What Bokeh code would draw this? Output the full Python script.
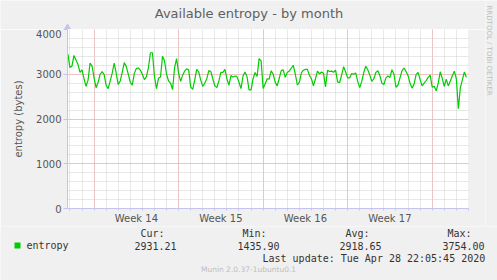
import math
from datetime import datetime, timedelta
from bokeh.plotting import figure
from bokeh.layouts import column, row
from bokeh.models import Range1d, FixedTicker
from bokeh.core.properties import value
from bokeh.embed import file_html
from bokeh.resources import INLINE

# ---------------- data ----------------
title_text = "Available entropy - by month"
y_label = "entropy (bytes)"
series_name = "entropy"
week_labels = ["Week 14", "Week 15", "Week 16", "Week 17"]
week_starts = ["2020-03-29", "2020-04-05", "2020-04-12", "2020-04-19", "2020-04-26"]
range_start = "2020-03-26 19:10"
range_end = "2020-04-29 00:10"
data_start = "2020-03-26 20:00"
step_hours = 4
y_ticks = [0, 1000, 2000, 3000, 4000]
entropy = [
    3450, 3150, 3180, 3420, 3320, 3220, 3040, 3099, 2900, 2730,
    2870, 3250, 3180, 2920, 2700, 2820, 3000, 3060, 2990, 2750,
    2680, 2850, 3023, 3250, 3020, 2770, 2850, 3050, 3260, 3170,
    3000, 2820, 2756, 3020, 3130, 3140, 3090, 3000, 2880, 2940,
    3150, 3480, 3480, 2950, 2680, 2910, 2940, 3400, 3300, 3000,
    2850, 2800, 2660, 3150, 3350, 3023, 2840, 2980, 3070, 3120,
    3099, 2718, 2660, 2870, 3110, 3050, 2870, 2730, 2800, 2900,
    3080, 3061, 2900, 2740, 2700, 2850, 3040, 3040, 3110, 2900,
    2750, 2970, 2940, 2960, 2947, 2820, 2680, 2960, 3050, 2947,
    2650, 2650, 2900, 3040, 2950, 3350, 3300, 2680, 2780, 2900,
    2890, 3080, 3000, 2820, 2740, 2910, 3080, 3099, 2930, 3040,
    3070, 3140, 3200, 3000, 2760, 2820, 3030, 3090, 3110, 3110,
    2975, 2900, 2740, 2900, 3070, 3010, 3050, 3020, 2718, 3090,
    3061, 3070, 3045, 3090, 2830, 2810, 2980, 3170, 3050, 2920,
    2920, 3015, 3000, 3030, 2840, 2700, 2840, 3040, 3180, 3100,
    2980, 2840, 2900, 3040, 3080, 2970, 2800, 2770, 2920, 2960,
    2930, 3100, 3000, 2710, 2760, 2920, 3080, 3140, 3060, 2970,
    2800, 2690, 2780, 2990, 3040, 2880, 2740, 2800, 2860, 2930,
    2980, 2710, 2730, 2630, 2800, 3055, 2910, 2730, 2890, 2740,
    2850, 2965, 3070, 2900, 2230, 2700, 2880, 3050, 2930,
]
stat_names = ["Cur:", "Min:", "Avg:", "Max:"]
stat_values = ["2931.21", "1435.90", "2918.65", "3754.00"]
last_update = "Last update: Tue Apr 28 22:05:45 2020"
footer = "Munin 2.0.37-1ubuntu0.1"
watermark = "RRDTOOL / TOBI OETIKER"

# ---------------- helpers ----------------
origin = datetime(2020, 3, 29)


def to_days(dt):
    return (dt - origin).total_seconds() / 86400.0


t0 = datetime.fromisoformat(data_start)
xs = [to_days(t0 + timedelta(hours=step_hours * i)) for i in range(len(entropy))]
week_days = [to_days(datetime.fromisoformat(d)) for d in week_starts]
label_days = [w + 3.5 for w in week_days[:-1]]
x0 = to_days(datetime.fromisoformat(range_start))
x1 = to_days(datetime.fromisoformat(range_end))
day_ticks = [float(d) for d in range(math.ceil(x0), math.floor(x1) + 1)]

BG = "#F0F0F0"
AXIS = "#C4C4EE"
TXT = "#555555"
LEG = "#333333"
GREEN = "#00CC00"
FAINT = "#BDBDBD"

W, H = 497, 280
TOP_H = 29          # strip above the main figure
RIGHT_W = 12        # strip on the right side (watermark)
BOT_H = 54          # legend strip
MAIN_W = W - RIGHT_W
MAIN_H = H - TOP_H - BOT_H
FL, FR, FB = 67, 468, 208  # frame left / right / bottom in page pixels


def strip(width, height, xr, yr):
    s = figure(width=width, height=height, output_backend="svg", toolbar_location=None,
               x_range=Range1d(*xr), y_range=Range1d(*yr), title=None,
               x_axis_location=None, y_axis_location=None,
               min_border=0, min_border_left=0, min_border_right=0,
               min_border_top=0, min_border_bottom=0)
    s.grid.visible = False
    s.outline_line_color = None
    s.background_fill_color = BG
    s.border_fill_color = BG
    return s


def txt(fig, x, y, text, size, color, font="DejaVu Sans", align="left", angle=0.0):
    fig.text(x=[x], y=[y], text=[text], text_font=value(font), text_font_size=value(size),
             text_color=color, text_align=value(align), text_baseline=value("middle"),
             angle=angle)


# ---------------- main plot ----------------
p = figure(width=MAIN_W, height=MAIN_H, output_backend="svg", toolbar_location=None,
           title=None, x_range=Range1d(x0, x1), y_range=Range1d(0, 4000),
           min_border_left=FL, min_border_right=MAIN_W - FR,
           min_border_top=0, min_border_bottom=MAIN_H - (FB - TOP_H) - 4)
p.background_fill_color = "white"
p.border_fill_color = BG
p.outline_line_color = None

p.ygrid.ticker = FixedTicker(ticks=y_ticks[1:], minor_ticks=list(range(0, 4001, 200)))
p.ygrid.grid_line_color = "#F2A0A0"
p.ygrid.grid_line_dash = "1 1"
p.ygrid.minor_grid_line_color = "#D0D0D0"
p.ygrid.minor_grid_line_dash = "1 1"
p.xgrid.ticker = FixedTicker(ticks=week_days, minor_ticks=day_ticks)
p.xgrid.grid_line_color = "#F2A0A0"
p.xgrid.grid_line_dash = "1 1"
p.xgrid.minor_grid_line_color = "#D0D0D0"
p.xgrid.minor_grid_line_dash = "1 1"

ya = p.yaxis[0]
ya.ticker = FixedTicker(ticks=y_ticks, minor_ticks=[])
ya.axis_line_color = AXIS
ya.major_tick_line_color = AXIS
ya.major_tick_out = 4
ya.major_tick_in = 0
ya.minor_tick_line_color = None
ya.minor_tick_out = 0
ya.minor_tick_in = 0
ya.major_label_standoff = 2
ya.major_label_text_font = "DejaVu Sans"
ya.major_label_text_font_size = "10px"
ya.major_label_text_color = TXT
ya.axis_label = y_label
ya.axis_label_text_font = "DejaVu Sans"
ya.axis_label_text_font_size = "10px"
ya.axis_label_text_font_style = "normal"
ya.axis_label_text_color = TXT
ya.axis_label_standoff = 9

xa = p.xaxis[0]
xa.ticker = FixedTicker(ticks=label_days, minor_ticks=day_ticks)
xa.major_label_overrides = {d: l for d, l in zip(label_days, week_labels)}
xa.axis_line_color = AXIS
xa.major_tick_line_color = None
xa.major_tick_out = 0
xa.major_tick_in = 0
xa.minor_tick_line_color = AXIS
xa.minor_tick_out = 2
xa.minor_tick_in = 0
xa.major_label_standoff = 2
xa.major_label_text_font = "DejaVu Sans"
xa.major_label_text_font_size = "10px"
xa.major_label_text_color = TXT

p.line(xs, entropy, line_color=GREEN, line_width=1.2)

# ---------------- top strip: title and y-axis arrow ----------------
top = strip(MAIN_W, TOP_H, (0, MAIN_W), (TOP_H, 0))
txt(top, 248.5, 13, title_text, "13px", "#606060", align="center")
top.triangle(x=[FL], y=[27], size=6, fill_color=AXIS, line_color=AXIS)

# ---------------- right strip: watermark ----------------
right = strip(RIGHT_W, TOP_H + MAIN_H, (MAIN_W, W), (TOP_H + MAIN_H, 0))
txt(right, 488.5, 5, watermark, "7px", FAINT, align="left", angle=-math.pi / 2)

# ---------------- bottom strip: legend ----------------
bot = strip(W, BOT_H, (0, W), (H, H - BOT_H))
MONO = "DejaVu Sans Mono"
bot.quad(left=[14], right=[20], top=[242], bottom=[248], fill_color=GREEN, line_color=None)
txt(bot, 26, 245, series_name, "10px", LEG, MONO)
name_x = [140, 242, 345, 447]
val_x = [134, 237, 339, 442]
for n, v, nx, vx in zip(stat_names, stat_values, name_x, val_x):
    txt(bot, nx, 232.5, n, "10px", LEG, MONO)
    txt(bot, vx, 245, v, "10px", LEG, MONO)
txt(bot, 262, 257.5, last_update, "10px", LEG, MONO)
txt(bot, 248, 269, footer, "7.5px", FAINT, align="center")

# each strip wrapped on its own so that plot frames are not aligned to each other
left_part = column(column(top), column(p))
layout = column(row(left_part, right), bot)
open("out.html", "w").write(file_html(layout, INLINE))
